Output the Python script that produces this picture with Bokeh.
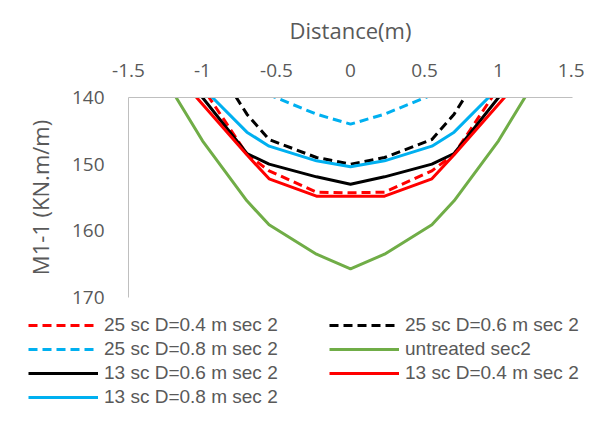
from bokeh.plotting import figure
from bokeh.layouts import column
from bokeh.models import Range1d, FixedTicker, Legend, LegendItem
from bokeh.embed import file_html
from bokeh.resources import INLINE

# Distance positions (m)
x_pts = [-1.2, -1.0, -0.7, -0.55, -0.23, 0.0, 0.23, 0.55, 0.7, 1.0, 1.2]

# M1-1 (KN.m/m) values per series
sc25_d04 = [133.0, 138.5, 148.5, 151.0, 154.2, 154.3, 154.2, 151.0, 148.5, 138.5, 133.0]
sc25_d06 = [126.0, 132.0, 142.5, 146.3, 149.0, 150.0, 149.0, 146.3, 142.5, 132.0, 126.0]
sc25_d08 = [127.0, 131.0, 137.0, 139.6, 142.5, 144.0, 142.5, 139.6, 137.0, 131.0, 127.0]
untreated = [139.2, 146.5, 155.5, 159.1, 163.5, 165.7, 163.5, 159.1, 155.5, 146.5, 139.2]
sc13_d06 = [134.0, 140.0, 148.4, 150.0, 151.9, 153.0, 151.9, 150.0, 148.4, 140.0, 134.0]
sc13_d04 = [136.0, 141.0, 148.6, 152.2, 154.8, 154.8, 154.8, 152.2, 148.6, 141.0, 136.0]
sc13_d08 = [134.0, 138.5, 145.2, 147.3, 149.5, 150.4, 149.5, 147.3, 145.2, 138.5, 134.0]

series_names = ["25 sc D=0.4 m sec 2", "25 sc D=0.6 m sec 2", "25 sc D=0.8 m sec 2",
                "untreated sec2", "13 sc D=0.6 m sec 2", "13 sc D=0.4 m sec 2",
                "13 sc D=0.8 m sec 2"]
series_values = [sc25_d04, sc25_d06, sc25_d08, untreated, sc13_d06, sc13_d04, sc13_d08]
series_colors = ["#FF0000", "#000000", "#00B0F0", "#70AD47", "#000000", "#FF0000", "#00B0F0"]
series_dash = ["9 5", "9 5", "9 5", "solid", "solid", "solid", "solid"]

x_ticks = [-1.5, -1, -0.5, 0, 0.5, 1, 1.5]
x_tick_labels = ["-1.5", "-1", "-0.5", "0", "0.5", "1", "1.5"]
y_ticks = [140, 150, 160, 170]

FONT = "Open Sans"
LEG_FONT = "Liberation Sans"
GREY = "#595959"

p = figure(width=584, height=310, output_backend="svg", toolbar_location=None,
           x_range=Range1d(-1.5, 1.5), y_range=Range1d(170, 140),
           x_axis_location="above",
           min_border_left=128, min_border_right=12, min_border_top=97,
           min_border_bottom=13)
p.frame_align = False
p.grid.visible = False
p.outline_line_color = None
p.background_fill_color = "white"
p.border_fill_color = "white"

xa = p.xaxis[0]
xa.ticker = FixedTicker(ticks=x_ticks)
xa.major_label_overrides = {t: l for t, l in zip(x_ticks, x_tick_labels)}
xa.axis_label = "Distance(m)"
ya = p.yaxis[0]
ya.ticker = FixedTicker(ticks=y_ticks)
ya.axis_label = "M1-1 (KN.m/m)"
for ax in (xa, ya):
    ax.axis_line_color = "#BFBFBF"
    ax.axis_line_width = 1
    ax.major_tick_line_color = None
    ax.minor_tick_line_color = None
    ax.major_label_text_font = FONT
    ax.major_label_text_font_size = "19px"
    ax.major_label_text_color = GREY
    ax.axis_label_text_font = FONT
    ax.axis_label_text_font_size = "22px"
    ax.axis_label_text_font_style = "normal"
    ax.axis_label_text_color = GREY
xa.major_label_standoff = 15
xa.axis_label_standoff = 16
ya.major_label_standoff = 18
ya.axis_label_standoff = 14

for name, vals, col, dash in zip(series_names, series_values, series_colors, series_dash):
    p.line(x_pts, vals, line_color=col, line_width=3, line_dash=dash)

# Legend panel: a separate figure below the chart (its ranges keep the
# proxy lines out of view, only the legend is shown)
pl = figure(width=584, height=99, output_backend="svg", toolbar_location=None,
            x_axis_type=None, y_axis_type=None,
            x_range=Range1d(10, 11), y_range=Range1d(10, 11),
            min_border_left=0, min_border_right=0, min_border_top=0,
            min_border_bottom=0)
pl.frame_align = False
pl.grid.visible = False
pl.outline_line_color = None
pl.border_fill_color = "white"
pl.background_fill_color = "white"

items = []
for name, vals, col, dash in zip(series_names, series_values, series_colors, series_dash):
    r = pl.line(x_pts, vals, line_color=col, line_width=3, line_dash=dash)
    items.append(LegendItem(label=name, renderers=[r]))

legend = Legend(items=items, orientation="horizontal", nrows=4,
                location=(28, 1))
legend.label_text_font = LEG_FONT
legend.label_text_font_size = "19px"
legend.label_text_color = GREY
legend.glyph_width = 70
legend.glyph_height = 20
legend.label_height = 20
legend.label_standoff = 6
legend.label_width = 223
legend.spacing = 2
legend.padding = 0
legend.margin = 0
legend.border_line_color = None
legend.background_fill_alpha = 0
pl.add_layout(legend, "center")

layout = column(p, pl, spacing=0)
open("out.html", "w").write(file_html(layout, INLINE))
